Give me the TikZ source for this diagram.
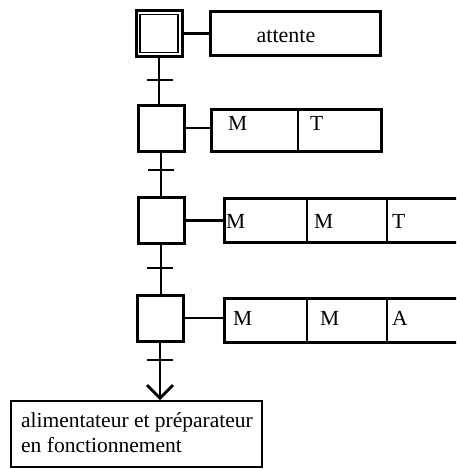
\documentclass[tikz,border=0pt]{standalone}
\usepackage{fontspec}
\setmainfont{Liberation Serif}
\usetikzlibrary{arrows.meta}
\begin{document}
\begin{tikzpicture}[x=1pt,y=-1pt,
  stepbox/.style={draw,line width=3pt,minimum width=46pt,minimum height=46pt,inner sep=0pt},
  actbox/.style={draw,line width=3pt,inner sep=0pt,anchor=north west},
  link/.style={line width=2.8pt},
  trbar/.style={line width=2.8pt},
  lbl/.style={font=\fontsize{21.5}{26}\selectfont,inner sep=0pt,anchor=base west}]
\clip (0,0) rectangle (456,469);
\fill[white] (0,0) rectangle (456,469);
% steps
\node[stepbox] (s0) at (159,33.5) {};
\node[draw,line width=1.2pt,minimum width=38pt,minimum height=38pt,inner sep=0pt] (s0in) at (s0) {};
\node[stepbox] (s1) at (161,128) {};
\node[stepbox] (s2) at (161,220.5) {};
\node[stepbox] (s3) at (160,318) {};
% action boxes
\node[actbox,minimum width=170pt,minimum height=44pt] (a0) at (209,10) {};
\node[font=\fontsize{22}{26}\selectfont,inner sep=0pt,anchor=base] (t0) at (286,42) {attente};
\node[actbox,minimum width=170pt,minimum height=42pt] (a1) at (210,108) {};
\coordinate (d1t) at (298,108); \coordinate (d1b) at (298,150);
\draw[line width=2.6pt] (d1t) -- (d1b);
\node[lbl] (t1a) at (228,130) {M};
\node[lbl] (t1b) at (310,130) {T};
\node[actbox,minimum width=240pt,minimum height=44pt] (a2) at (223,197) {};
\coordinate (d2at) at (307,197); \coordinate (d2ab) at (307,241);
\coordinate (d2bt) at (387,197); \coordinate (d2bb) at (387,241);
\draw[line width=2.6pt] (d2at) -- (d2ab) (d2bt) -- (d2bb);
\node[lbl] (t2a) at (226,228) {M};
\node[lbl] (t2b) at (314,228) {M};
\node[lbl] (t2c) at (392,228) {T};
\node[actbox,minimum width=240pt,minimum height=44pt] (a3) at (223,297) {};
\coordinate (d3at) at (307,297); \coordinate (d3ab) at (307,341);
\coordinate (d3bt) at (387,297); \coordinate (d3bb) at (387,341);
\draw[line width=2.6pt] (d3at) -- (d3ab) (d3bt) -- (d3bb);
\node[lbl] (t3a) at (233,325) {M};
\node[lbl] (t3b) at (320,325) {M};
\node[lbl] (t3c) at (392,325) {A};
% links step -> action
\draw[link] (s0.east) -- (a0.west |- s0.east);
\draw[link] (s1.east) -- (a1.west |- s1.east);
\draw[link] (s2.east) -- (a2.west |- s2.east);
\draw[link] (s3.east) -- (a3.west |- s3.east);
% final box
\node[draw,line width=2pt,anchor=north west,minimum width=251pt,minimum height=66pt,inner sep=0pt] (fin) at (10,400) {};
\node[lbl] (f1) at (21,427) {alimentateur et préparateur};
\node[lbl] (f2) at (21,452) {en fonctionnement};
% vertical connections
\draw[link] (s0.south) -- (s0.south |- s1.north);
\draw[link] (s1.south) -- (s1.south |- s2.north);
\draw[link] (s2.south) -- (s2.south |- s3.north);
\draw[link,-{Straight Barb[length=13pt,width=26pt,line width=2.8pt]}] (s3.south) -- (s3.south |- fin.north);
% transitions
\coordinate (tr1) at (160,80);
\coordinate (tr2) at (161,170);
\coordinate (tr3) at (160,268);
\coordinate (tr4) at (160,360);
\foreach \t in {tr1,tr2,tr3,tr4} \draw[trbar] ([xshift=-13pt]\t) -- ([xshift=13pt]\t);
\end{tikzpicture}
\end{document}
